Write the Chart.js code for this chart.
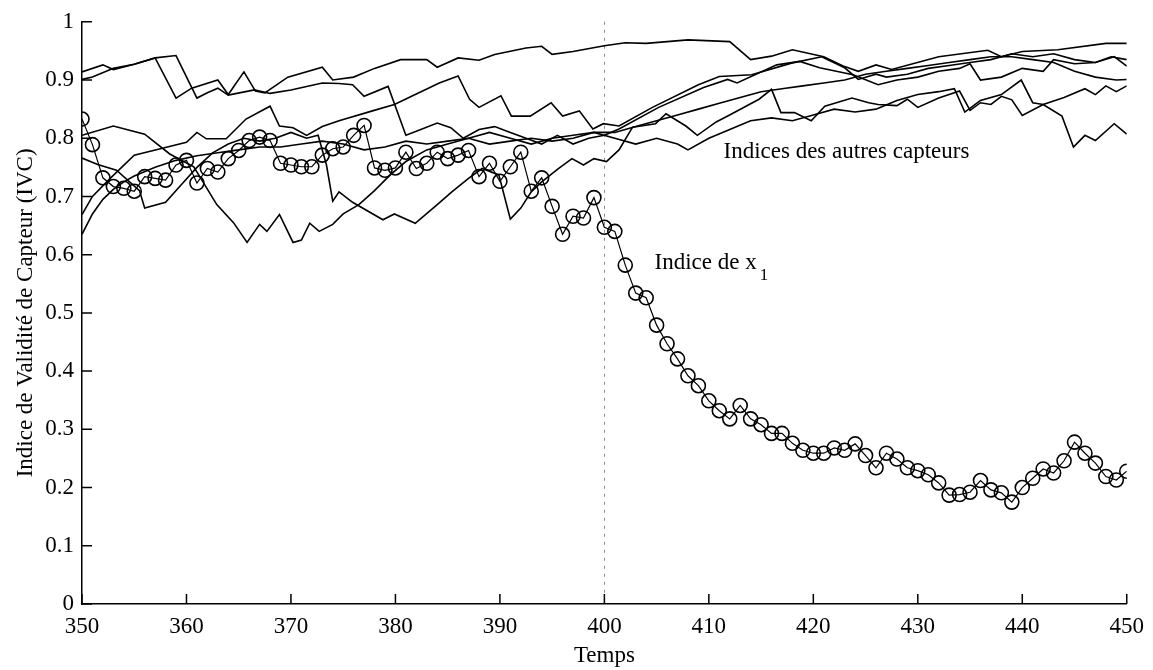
<!DOCTYPE html>
<html>
<head>
<meta charset="utf-8">
<script src="https://cdn.jsdelivr.net/npm/chart.js@4.4.1/dist/chart.umd.min.js"></script>
<style>
  html, body { margin: 0; padding: 0; background: #fff; }
  #wrap { width: 1153px; height: 670px; }
</style>
</head>
<body>
<div id="wrap"><canvas id="ivc" width="1153" height="670"></canvas></div>
<script>
// Time axis (x) and index of sensor x1 (the circles)
const temps = [350,351,352,353,354,355,356,357,358,359,360,361,362,363,364,365,366,367,368,369,
  370,371,372,373,374,375,376,377,378,379,380,381,382,383,384,385,386,387,388,389,
  390,391,392,393,394,395,396,397,398,399,400,401,402,403,404,405,406,407,408,409,
  410,411,412,413,414,415,416,417,418,419,420,421,422,423,424,425,426,427,428,429,
  430,431,432,433,434,435,436,437,438,439,440,441,442,443,444,445,446,447,448,449,450];
const indiceX1 = [0.833,0.789,0.732,0.717,0.714,0.709,0.734,0.731,0.728,0.754,0.762,0.723,0.748,0.742,0.765,0.779,0.796,0.802,0.796,0.757,
  0.754,0.751,0.751,0.771,0.782,0.785,0.805,0.822,0.749,0.745,0.749,0.776,0.748,0.757,0.776,0.765,0.771,0.779,0.734,0.757,
  0.726,0.751,0.776,0.709,0.732,0.683,0.635,0.666,0.663,0.698,0.647,0.640,0.582,0.534,0.526,0.479,0.447,0.421,0.392,0.375,
  0.349,0.332,0.318,0.341,0.318,0.308,0.293,0.293,0.276,0.264,0.259,0.259,0.268,0.264,0.275,0.255,0.234,0.259,0.249,0.234,
  0.229,0.222,0.208,0.187,0.188,0.192,0.212,0.196,0.191,0.175,0.200,0.216,0.232,0.225,0.246,0.278,0.259,0.242,0.219,0.213,0.228];

// Indices of the other sensors: [temps, valeur]
const capteur1 = [[350,0.914],[352,0.926],[353,0.918],[355,0.927],[357,0.938],[359,0.869],[360.5,0.886],[363,0.900],[364,0.875],[365.5,0.914],[366.6,0.881],[367.5,0.878],[369.7,0.905],[373,0.922],[374,0.900],[376,0.905],[378,0.920],[380.5,0.935],[383,0.935],[384,0.922],[386,0.938],[388,0.934],[389.5,0.944],[392.5,0.955],[394,0.958],[395,0.944],[397,0.949],[400,0.959],[402,0.964],[404,0.963],[408,0.969],[412,0.966],[414,0.935],[416,0.941],[418,0.952],[421,0.940],[423,0.923],[424.3,0.915],[426,0.926],[427.5,0.918],[432,0.940],[436.7,0.951],[438,0.940],[440,0.949],[443.4,0.952],[448,0.963],[450,0.963]];
const capteur2 = [[350,0.901],[351,0.905],[353,0.920],[355,0.927],[357,0.938],[359,0.942],[361,0.869],[362,0.878],[363,0.886],[364,0.874],[366.5,0.883],[368,0.877],[370,0.883],[373,0.895],[374.6,0.894],[375.9,0.892],[377,0.872],[379.3,0.889],[381,0.805],[382,0.812],[384,0.826],[385.3,0.818],[386.5,0.800],[388,0.815],[389.5,0.820],[391,0.810],[392.5,0.800],[394,0.790],[395.5,0.805],[397,0.790],[398.5,0.800],[400,0.805],[401.4,0.816],[405.2,0.853],[409.5,0.887],[411.8,0.901],[412.7,0.895],[416.5,0.926],[418.7,0.932],[420.6,0.921],[423.8,0.909],[426.2,0.892],[428,0.900],[430,0.905],[432,0.915],[434,0.920],[435,0.928],[436,0.900],[438,0.905],[440,0.920],[442,0.915],[443,0.935],[445,0.928],[447,0.930],[448.5,0.940],[450,0.935]];
const capteur3 = [[350,0.805],[353,0.821],[356,0.807],[358.4,0.773],[360.7,0.751],[362.9,0.686],[364.5,0.655],[365.8,0.621],[367,0.652],[367.7,0.640],[368.9,0.669],[370.2,0.621],[371,0.625],[371.8,0.654],[372.7,0.640],[374,0.652],[375,0.670],[376.5,0.686],[378,0.710],[379.5,0.737],[381,0.760],[383,0.780],[385,0.790],[387,0.800],[389,0.810],[391,0.800],[393,0.790],[395,0.800],[397,0.805],[399,0.810],[401,0.800],[403,0.790],[405,0.800],[407,0.790],[408,0.780],[410,0.800],[412,0.815],[414,0.830],[416,0.835],[418,0.830],[420,0.840],[422,0.850],[424,0.845],[426,0.850],[428,0.865],[430,0.875],[432,0.880],[433.5,0.885],[434.5,0.845],[436,0.865],[438,0.875],[439.9,0.900],[441,0.861],[442,0.858],[443.8,0.838],[444.9,0.785],[446,0.805],[447,0.796],[448.8,0.825],[450,0.807]];
const capteur4 = [[350,0.766],[351.5,0.755],[353.3,0.745],[355.5,0.710],[356,0.680],[358,0.690],[359.5,0.720],[361,0.750],[362.5,0.775],[364,0.790],[365.5,0.800],[367,0.795],[368.5,0.800],[370,0.810],[371.5,0.800],[372.6,0.805],[373.4,0.754],[374,0.692],[374.6,0.708],[375.9,0.690],[378.8,0.660],[379.9,0.670],[381.9,0.654],[384,0.686],[385.4,0.708],[387,0.731],[388.3,0.748],[389.9,0.737],[391,0.661],[392,0.680],[393,0.708],[394,0.725],[395.6,0.748],[396.9,0.765],[398,0.754],[399,0.765],[400.2,0.760],[401.4,0.780],[402.7,0.819],[404.9,0.825],[405.9,0.842],[407.8,0.821],[408.9,0.805],[410.7,0.828],[411.9,0.839],[414.8,0.867],[416,0.884],[416.9,0.844],[418.2,0.844],[419.8,0.830],[421.1,0.855],[423.7,0.869],[425.3,0.861],[426.2,0.858],[428,0.856],[429,0.867],[430,0.853],[432,0.869],[434,0.881],[435,0.848],[436,0.861],[437,0.858],[438,0.872],[439,0.866],[440,0.839],[442,0.858],[444,0.870],[446,0.885],[447,0.875],[448,0.890],[449,0.880],[450,0.890]];
const capteur5 = [[350,0.669],[351,0.700],[352.7,0.731],[355,0.771],[357.5,0.782],[360,0.793],[361,0.810],[361.9,0.799],[363.8,0.799],[365.7,0.833],[368,0.855],[368.9,0.821],[370.2,0.818],[371.5,0.805],[373,0.820],[374.6,0.830],[377.8,0.847],[379.9,0.858],[384.2,0.895],[386,0.907],[387.1,0.867],[388,0.853],[390.1,0.873],[391.1,0.838],[392.9,0.838],[394.9,0.861],[396,0.838],[397.6,0.847],[398.9,0.816],[399.9,0.825],[401.4,0.821],[404.6,0.853],[409,0.892],[411,0.906],[414.1,0.909],[417.9,0.929],[420.8,0.940],[423,0.921],[424.3,0.901],[426,0.910],[427,0.905],[429,0.910],[431,0.920],[433,0.925],[435,0.930],[437,0.935],[439,0.945],[441,0.940],[443,0.945],[445,0.935],[447,0.930],[448.8,0.940],[450,0.924]];
const capteur6 = [[350,0.635],[351,0.670],[352,0.695],[353,0.712],[354,0.725],[355,0.735],[357,0.750],[359,0.762],[361,0.770],[363,0.775],[365,0.780],[367,0.785],[369,0.785],[371,0.790],[373,0.795],[375,0.790],[377,0.780],[379,0.785],[381,0.795],[383,0.790],[385,0.795],[387,0.800],[389,0.790],[391,0.795],[393,0.800],[395,0.795],[397,0.800],[399,0.810],[401,0.810],[403,0.820],[405,0.830],[407,0.840],[409,0.850],[411,0.860],[413,0.870],[415,0.880],[417,0.885],[419,0.890],[421,0.895],[423,0.900],[425,0.910],[427,0.915],[429,0.920],[431,0.925],[433,0.930],[435,0.935],[437,0.940],[439,0.940],[441,0.935],[443,0.930],[445,0.915],[447,0.905],[449,0.900],[450,0.901]];

const xTicks = [350,360,370,380,390,400,410,420,430,440,450];
const yTicks = [0,0.1,0.2,0.3,0.4,0.5,0.6,0.7,0.8,0.9,1];
const autres = [capteur1, capteur2, capteur3, capteur4, capteur5, capteur6];

const serif = "'Liberation Serif', 'DejaVu Serif', serif";

// dotted line at t = 400, inward ticks, text labels
const decorPlugin = {
  id: 'decor',
  beforeDatasetsDraw(chart) {
    const { ctx, scales: { x, y } } = chart;
    const px = Math.round(x.getPixelForValue(400)) + 0.5;
    ctx.save();
    ctx.strokeStyle = '#8a8a8a';
    ctx.lineWidth = 1;
    ctx.setLineDash([3, 5]);
    ctx.beginPath();
    ctx.moveTo(px, y.getPixelForValue(1));
    ctx.lineTo(px, y.getPixelForValue(0));
    ctx.stroke();
    ctx.restore();
  },
  afterDraw(chart) {
    const { ctx, scales: { x, y }, chartArea } = chart;
    ctx.save();
    ctx.strokeStyle = '#000';
    ctx.lineWidth = 1.5;
    ctx.beginPath();
    xTicks.forEach(v => {
      const px = x.getPixelForValue(v);
      ctx.moveTo(px, chartArea.bottom);
      ctx.lineTo(px, chartArea.bottom - 10);
    });
    yTicks.forEach(v => {
      const py = y.getPixelForValue(v);
      ctx.moveTo(chartArea.left, py);
      ctx.lineTo(chartArea.left + 10, py);
    });
    ctx.stroke();

    ctx.fillStyle = '#000';
    ctx.textBaseline = 'middle';
    ctx.textAlign = 'left';
    ctx.font = '23px ' + serif;
    ctx.fillText('Indices des autres capteurs', x.getPixelForValue(411.4), y.getPixelForValue(0.776));
    const lx = x.getPixelForValue(404.8), ly = y.getPixelForValue(0.586);
    const txt = 'Indice de x';
    ctx.fillText(txt, lx, ly);
    const w = ctx.measureText(txt).width;
    ctx.font = '17px ' + serif;
    ctx.fillText('1', lx + w + 3, ly + 13);
    ctx.restore();
  }
};

const datasets = autres.map(serie => ({
  data: serie.map(p => ({ x: p[0], y: p[1] })),
  borderColor: '#000',
  borderWidth: 1.6,
  pointRadius: 0,
  tension: 0,
  fill: false
}));
datasets.push({
  data: temps.map((t, i) => ({ x: t, y: indiceX1[i] })),
  borderColor: '#000',
  borderWidth: 1.2,
  pointRadius: 7,
  pointBorderWidth: 1.6,
  pointBackgroundColor: 'rgba(0,0,0,0)',
  pointBorderColor: '#000',
  pointStyle: 'circle',
  tension: 0,
  fill: false
});

new Chart(document.getElementById('ivc'), {
  type: 'line',
  data: { datasets },
  options: {
    responsive: false,
    animation: false,
    devicePixelRatio: 1,
    layout: { padding: { left: 0, right: 24, top: 15, bottom: 0 } },
    plugins: { legend: { display: false }, tooltip: { enabled: false } },
    scales: {
      x: {
        type: 'linear',
        min: 350,
        max: 450,
        afterFit(scale) { scale.height = 66; },
        afterBuildTicks(scale) { scale.ticks = xTicks.map(v => ({ value: v })); },
        ticks: { color: '#000', font: { family: serif, size: 23 }, padding: 9, maxRotation: 0 },
        grid: { display: false, drawTicks: false },
        border: { display: true, color: '#000', width: 1.5 },
        title: { display: true, text: 'Temps', color: '#000', font: { family: serif, size: 23 }, padding: { top: 0, bottom: 0 } }
      },
      y: {
        type: 'linear',
        min: 0,
        max: 1,
        afterFit(scale) { scale.width = 82; },
        afterBuildTicks(scale) { scale.ticks = yTicks.map(v => ({ value: v })); },
        ticks: { color: '#000', font: { family: serif, size: 23 }, padding: 8,
          callback: v => String(Number(v.toFixed(1))) },
        grid: { display: false, drawTicks: false },
        border: { display: true, color: '#000', width: 1.5 },
        title: { display: true, text: 'Indice de Validité de Capteur (IVC)', color: '#000', font: { family: serif, size: 23 }, padding: { top: 12, bottom: 0 } }
      }
    }
  },
  plugins: [decorPlugin]
});
</script>
</body>
</html>
